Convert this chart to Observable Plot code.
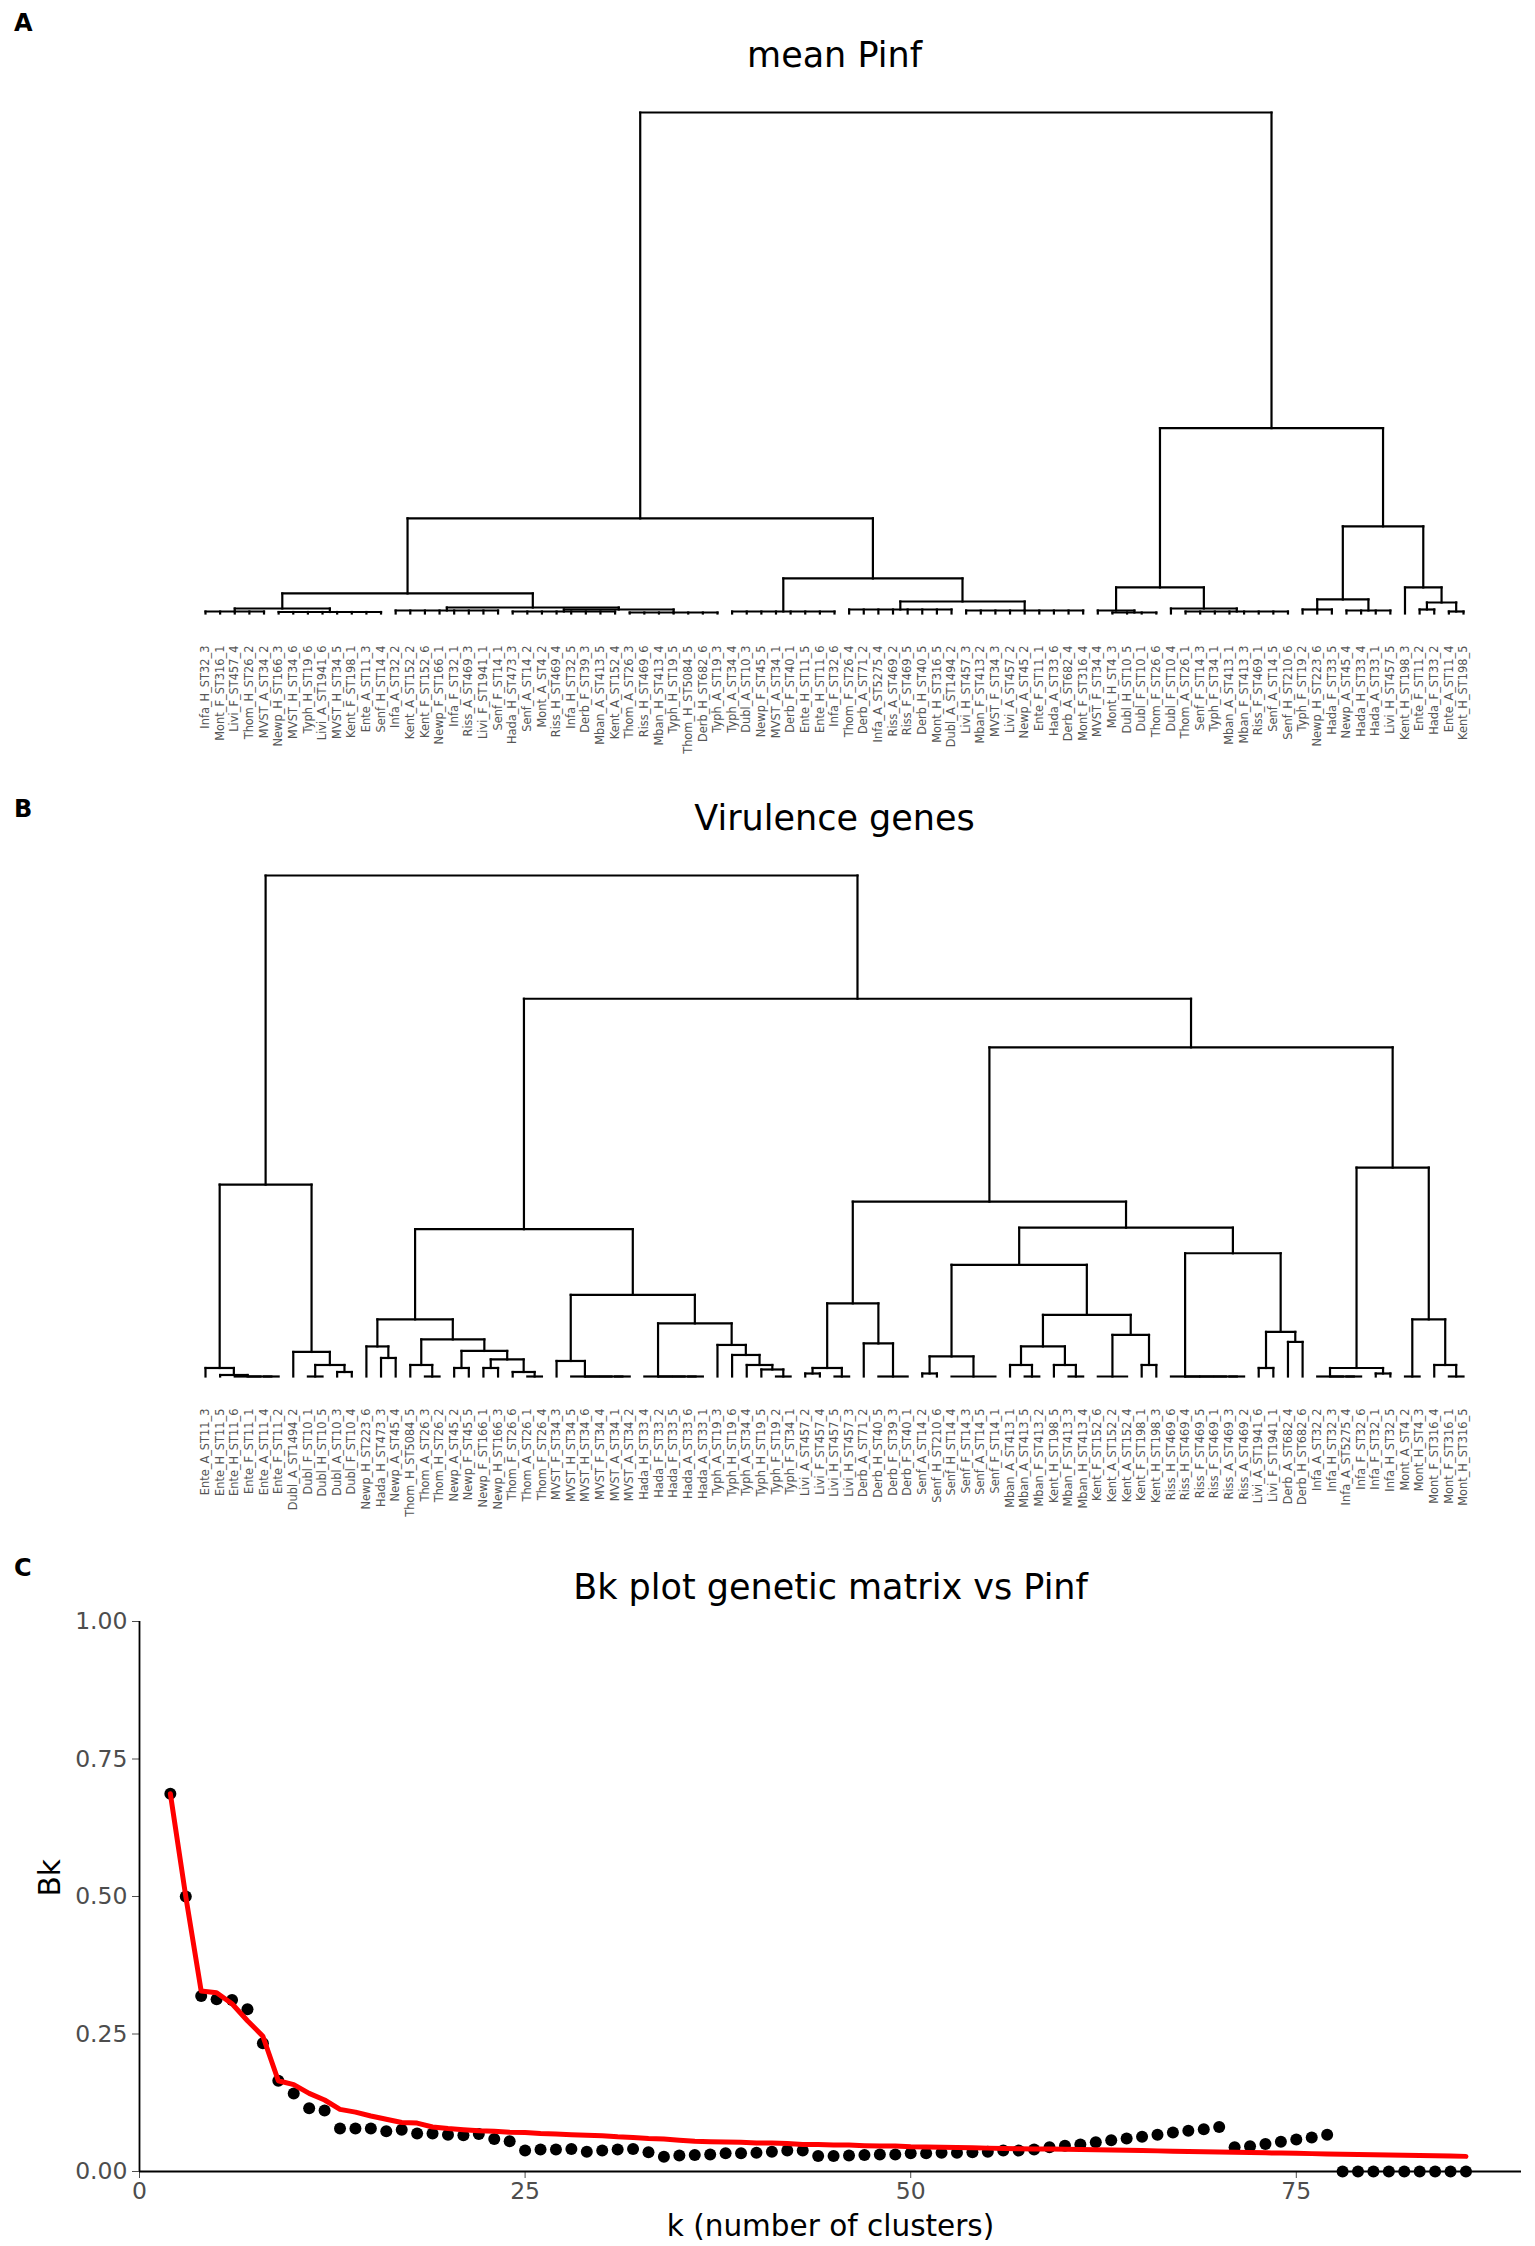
<!DOCTYPE html>
<html><head><meta charset="utf-8">
<script src="https://cdn.jsdelivr.net/npm/d3@7"></script>
<script src="https://cdn.jsdelivr.net/npm/@observablehq/plot@0.6"></script>
<style>
body{margin:0;background:#fff;font-family:"DejaVu Sans",sans-serif;}
#wrap{position:relative;width:1535px;height:2246px;overflow:hidden;}
.panel{position:absolute;left:0;}
.letter{position:absolute;font-weight:bold;font-size:24px;line-height:24px;font-family:"DejaVu Sans",sans-serif;}
</style></head><body><div id="wrap"></div><script>
// ---------- DATA ----------
const labelsA = ["Infa_H_ST32_3","Mont_F_ST316_1","Livi_F_ST457_4","Thom_H_ST26_2","MVST_A_ST34_2","Newp_H_ST166_3","MVST_H_ST34_6","Typh_H_ST19_6","Livi_A_ST1941_6","MVST_H_ST34_5","Kent_F_ST198_1","Ente_A_ST11_3","Senf_H_ST14_4","Infa_A_ST32_2","Kent_A_ST152_2","Kent_F_ST152_6","Newp_F_ST166_1","Infa_F_ST32_1","Riss_A_ST469_3","Livi_F_ST1941_1","Senf_F_ST14_1","Hada_H_ST473_3",
"Senf_A_ST14_2","Mont_A_ST4_2","Riss_H_ST469_4","Infa_H_ST32_5","Derb_F_ST39_3","Mban_A_ST413_5","Kent_A_ST152_4","Thom_A_ST26_3","Riss_H_ST469_6","Mban_H_ST413_4","Typh_H_ST19_5","Thom_H_ST5084_5","Derb_H_ST682_6","Typh_A_ST19_3","Typh_A_ST34_4","Dubl_A_ST10_3","Newp_F_ST45_5","MVST_A_ST34_1","Derb_F_ST40_1","Ente_H_ST11_5","Ente_H_ST11_6","Infa_F_ST32_6",
"Thom_F_ST26_4","Derb_A_ST71_2","Infa_A_ST5275_4","Riss_A_ST469_2","Riss_F_ST469_5","Derb_H_ST40_5","Mont_H_ST316_5","Dubl_A_ST1494_2","Livi_H_ST457_3","Mban_F_ST413_2","MVST_F_ST34_3","Livi_A_ST457_2","Newp_A_ST45_2","Ente_F_ST11_1","Hada_A_ST33_6","Derb_A_ST682_4","Mont_F_ST316_4","MVST_F_ST34_4","Mont_H_ST4_3","Dubl_H_ST10_5","Dubl_F_ST10_1","Thom_F_ST26_6",
"Dubl_F_ST10_4","Thom_A_ST26_1","Senf_F_ST14_3","Typh_F_ST34_1","Mban_A_ST413_1","Mban_F_ST413_3","Riss_F_ST469_1","Senf_A_ST14_5","Senf_H_ST210_6","Typh_F_ST19_2","Newp_H_ST223_6","Hada_F_ST33_5","Newp_A_ST45_4","Hada_H_ST33_4","Hada_A_ST33_1","Livi_H_ST457_5","Kent_H_ST198_3","Ente_F_ST11_2","Hada_F_ST33_2","Ente_A_ST11_4","Kent_H_ST198_5"];

const labelsB = ["Ente_A_ST11_3","Ente_H_ST11_5","Ente_H_ST11_6","Ente_F_ST11_1","Ente_A_ST11_4","Ente_F_ST11_2","Dubl_A_ST1494_2","Dubl_F_ST10_1","Dubl_H_ST10_5","Dubl_A_ST10_3","Dubl_F_ST10_4","Newp_H_ST223_6","Hada_H_ST473_3","Newp_A_ST45_4","Thom_H_ST5084_5","Thom_A_ST26_3","Thom_H_ST26_2","Newp_A_ST45_2","Newp_F_ST45_5","Newp_F_ST166_1","Newp_H_ST166_3","Thom_F_ST26_6",
"Thom_A_ST26_1","Thom_F_ST26_4","MVST_F_ST34_3","MVST_H_ST34_5","MVST_H_ST34_6","MVST_F_ST34_4","MVST_A_ST34_1","MVST_A_ST34_2","Hada_H_ST33_4","Hada_F_ST33_2","Hada_F_ST33_5","Hada_A_ST33_6","Hada_A_ST33_1","Typh_A_ST19_3","Typh_H_ST19_6","Typh_A_ST34_4","Typh_H_ST19_5","Typh_F_ST19_2","Typh_F_ST34_1","Livi_A_ST457_2","Livi_F_ST457_4","Livi_H_ST457_5",
"Livi_H_ST457_3","Derb_A_ST71_2","Derb_H_ST40_5","Derb_F_ST39_3","Derb_F_ST40_1","Senf_A_ST14_2","Senf_H_ST210_6","Senf_H_ST14_4","Senf_F_ST14_3","Senf_A_ST14_5","Senf_F_ST14_1","Mban_A_ST413_1","Mban_A_ST413_5","Mban_F_ST413_2","Kent_H_ST198_5","Mban_F_ST413_3","Mban_H_ST413_4","Kent_F_ST152_6","Kent_A_ST152_2","Kent_A_ST152_4","Kent_F_ST198_1","Kent_H_ST198_3",
"Riss_H_ST469_6","Riss_H_ST469_4","Riss_F_ST469_5","Riss_F_ST469_1","Riss_A_ST469_3","Riss_A_ST469_2","Livi_A_ST1941_6","Livi_F_ST1941_1","Derb_A_ST682_4","Derb_H_ST682_6","Infa_A_ST32_2","Infa_H_ST32_3","Infa_A_ST5275_4","Infa_F_ST32_6","Infa_F_ST32_1","Infa_H_ST32_5","Mont_A_ST4_2","Mont_H_ST4_3","Mont_F_ST316_4","Mont_F_ST316_1","Mont_H_ST316_5"];

// merge trees: [height, child, child, ...]; a number is a leaf index
const treeA = [1.0,
  [0.19,
    [0.04,
      [0.010, [0.004, 0,1,2,3,4], [0.003, 5,6,7,8,9,10,11,12]],
      [0.012, [0.006, 13,14,15,16,17,18,19,20], [0.008, [0.004, 21,22,23,24,25,26,27,28], [0.002, 29,30,31,32,33,34,35]]]
    ],
    [0.07,
      [0.004, 36,37,38,39,40,41,42,43],
      [0.024, [0.008, 44,45,46,47,48,49,50,51], [0.006, 52,53,54,55,56,57,58,59,60]]
    ]
  ],
  [0.37,
    [0.052, [0.006, 61, [0.002, 62,63,64,65]], [0.010, 66, [0.004, 67,68,69,70,71,72,73,74]]],
    [0.174,
      [0.028, [0.008, 75,76,77], [0.006, 78,79,80,81]],
      [0.052, 82, [0.022, [0.008, 83,84], [0.004, 85,86]]]
    ]
  ]
];

const treeB = [1.0,
  [0.383,
    [0.017, 0, [0.003, 1, [0, 2, [0, 3, [0, 4, 5]]]]],
    [0.049, 6, [0.023, [0, 7, 8], [0.009, 9, 10]]]
  ],
  [0.754,
    [0.294,
      [0.114,
        [0.06, 11, [0.037, 12, 13]],
        [0.074, [0.023, 14, [0, 15, 16]], [0.051, [0.017, 17, 18], [0.034, [0.017, 19, 20], [0.009, 21, [0, 22, 23]]]]]
      ],
      [0.163,
        [0.031, 24, [0, 25, [0, 26, [0, 27, [0, 28, 29]]]]],
        [0.106, [0, 30, [0, 31, [0, 32, [0, 33, 34]]]], [0.063, 35, [0.043, 36, [0.023, 37, [0.014, 38, [0, 39, 40]]]]]]
      ]
    ],
    [0.657,
      [0.349,
        [0.146, [0.017, [0.006, 41, 42], [0, 43, 44]], [0.066, 45, [0, 46, 47, 48]]],
        [0.297,
          [0.223,
            [0.04, [0.006, 49, 50], [0, 51, 52, 53, 54]],
            [0.123, [0.06, [0.023, 55, [0, 56, 57]], [0.023, 58, [0, 59, 60]]], [0.083, [0, 61, 62, 63], [0.023, 64, 65]]]
          ],
          [0.246,
            [0, 66, [0, 67, [0, 68, [0, 69, [0, 70, 71]]]]],
            [0.089, [0.017, 72, 73], [0.069, 74, 75]]
          ]
        ]
      ],
      [0.417,
        [0.017, [0, 76, [0, 77, [0, 78, 79]]], [0.006, 80, 81]],
        [0.114, [0, 82, 83], [0.023, 84, [0, 85, 86]]]
      ]
    ]
  ]
];

// Bk plot
const bkK = [2,3,4,5,6,7,8,9,10,11,12,13,14,15,16,17,18,19,20,21,22,23,24,25,26,27,28,29,30,31,32,33,34,35,36,37,38,39,40,41,42,43,44,45,46,47,48,49,50,51,52,53,54,55,56,57,58,59,60,61,62,63,64,65,66,67,68,69,70,71,72,73,74,75,76,77,78,79,80,81,82,83,84,85,86];
const bkObserved = [0.687,0.500,0.319,0.313,0.312,0.295,0.233,0.165,0.142,0.115,0.111,0.078,0.078,0.078,0.073,0.076,0.069,0.069,0.067,0.066,0.068,0.059,0.055,0.038,0.040,0.040,0.041,0.036,0.038,0.040,0.041,0.035,0.027,0.029,0.030,0.031,0.033,0.033,0.034,0.036,0.038,0.038,0.028,0.028,0.029,0.030,0.031,0.031,0.033,0.033,0.034,0.034,0.035,0.036,0.038,0.038,0.040,0.044,0.047,0.049,0.053,0.057,0.060,0.063,0.067,0.071,0.074,0.077,0.081,0.044,0.046,0.050,0.054,0.058,0.062,0.067,0,0,0,0,0,0,0,0,0];
const bkExpected = [0.687,0.500,0.328,0.325,0.305,0.274,0.246,0.165,0.158,0.142,0.130,0.113,0.108,0.101,0.095,0.089,0.088,0.081,0.078,0.076,0.074,0.073,0.0715,0.071,0.069,0.068,0.067,0.066,0.065,0.063,0.062,0.060,0.059,0.057,0.055,0.054,0.0535,0.053,0.052,0.052,0.051,0.049,0.049,0.048,0.048,0.047,0.0465,0.0465,0.045,0.0445,0.044,0.0435,0.043,0.0425,0.042,0.0415,0.041,0.041,0.0405,0.040,0.0395,0.039,0.0385,0.038,0.0375,0.037,0.0365,0.036,0.0355,0.035,0.0345,0.034,0.0335,0.033,0.0325,0.032,0.0315,0.031,0.0305,0.030,0.0295,0.029,0.0285,0.028,0.0275];
const bkTicksX = [0,25,50,75];
const bkTicksY = [0,0.25,0.5,0.75,1];

// ---------- DRAWING ----------
const wrap = document.getElementById("wrap");
const FONT = "DejaVu Sans";

function dendroSegments(tree) {
  const segs = [];
  function rec(node) {
    if (typeof node === "number") return {x: node, h: 0};
    const h = node[0];
    const kids = node.slice(1).map(rec);
    const xa = kids[0].x, xb = kids[kids.length - 1].x;
    segs.push({x1: xa, x2: xb, y1: h, y2: h});
    for (const k of kids) if (k.h !== h) segs.push({x1: k.x, x2: k.x, y1: k.h, y2: h});
    return {x: (xa + xb) / 2, h};
  }
  rec(tree);
  return segs;
}

function addPanel(el, top) {
  el.classList.add("panel");
  el.style.top = top + "px";
  wrap.appendChild(el);
}
function addLetter(t, x, y) {
  const d = document.createElement("div");
  d.className = "letter";
  d.textContent = t;
  d.style.left = x + "px";
  d.style.top = y + "px";
  wrap.appendChild(d);
}

function dendro(tree, labels, title, height, mt, mb) {
  return Plot.plot({
    width: 1535, height,
    marginTop: mt, marginBottom: mb, marginLeft: 205, marginRight: 72,
    x: {domain: [0, labels.length - 1], axis: null},
    y: {domain: [0, 1], axis: null},
    style: {fontFamily: FONT, background: "white"},
    marks: [
      Plot.link(dendroSegments(tree), {x1: "x1", y1: "y1", x2: "x2", y2: "y2", stroke: "black", strokeWidth: 2.2, strokeLinecap: "square"}),
      Plot.text(labels, {x: (d, i) => i, y: 0, text: d => d, rotate: -90, textAnchor: "end", dy: 32, fontSize: 11.4, fill: "#555"}),
      Plot.text([title], {frameAnchor: "top", dy: -70, fontSize: 35, fill: "black"})
    ]
  });
}

addPanel(dendro(treeA, labelsA, "mean Pinf", 790, 112, 177), 0);
addPanel(dendro(treeB, labelsB, "Virulence genes", 755, 85, 169), 790);

const bkData = bkK.map((k, i) => ({k, v: bkObserved[i]}));
const lineData = bkK.map((k, i) => ({k, v: bkExpected[i]}));

const pc = Plot.plot({
  width: 1535, height: 701,
  marginTop: 76, marginBottom: 75, marginLeft: 139, marginRight: 14,
  x: {domain: [0, 89.6]},
  y: {domain: [0, 1]},
  style: {fontFamily: FONT, background: "white"},
  marks: [
    Plot.axisX({ticks: bkTicksX, tickSize: 7, tickPadding: 4, fontSize: 23.5, label: null, color: "#4d4d4d"}),
    Plot.axisY({ticks: bkTicksY, tickFormat: d3.format(".2f"), tickSize: 7, tickPadding: 5, fontSize: 23.5, label: null, color: "#4d4d4d"}),
    Plot.ruleX([0], {y1: 0, y2: 1, stroke: "black", strokeWidth: 1.8}),
    Plot.ruleY([0], {stroke: "black", strokeWidth: 1.8}),
    Plot.dot(bkData, {x: "k", y: "v", r: 6, fill: "black", stroke: "none"}),
    Plot.line(lineData, {x: "k", y: "v", stroke: "#ff0000", strokeWidth: 5}),
    Plot.text(["Bk plot genetic matrix vs Pinf"], {frameAnchor: "top", dy: -47, fontSize: 35, fill: "black"}),
    Plot.text(["k (number of clusters)"], {frameAnchor: "bottom", dy: 64, fontSize: 29.5, fill: "black"}),
    Plot.text(["Bk"], {frameAnchor: "left", dx: -89, rotate: -90, fontSize: 29.5, fill: "black"})
  ]
});
addPanel(pc, 1545);

addLetter("A", 14, 11);
addLetter("B", 14, 797);
addLetter("C", 14, 1556);
</script></body></html>
